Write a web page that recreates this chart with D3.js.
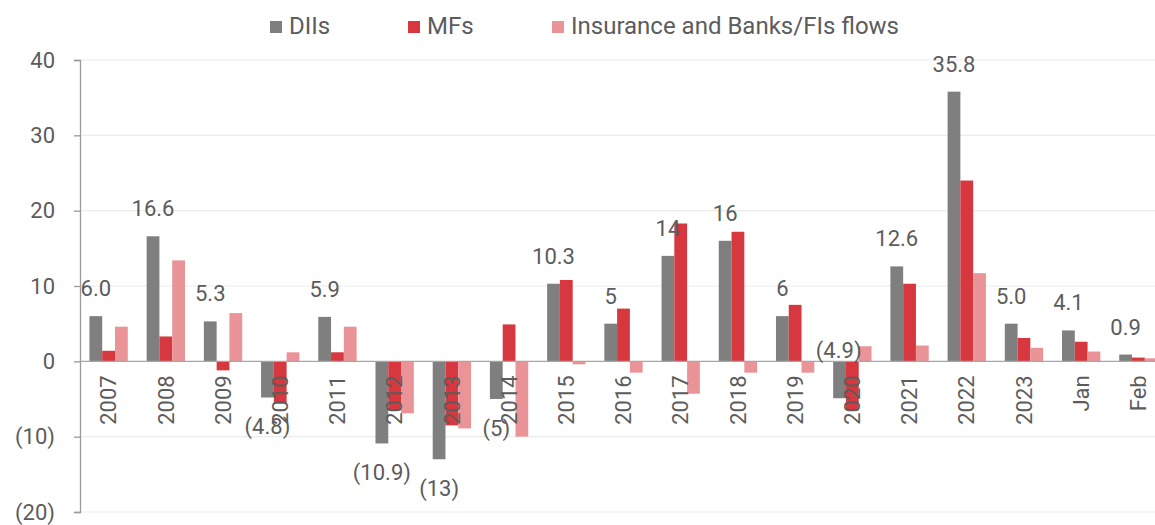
<!DOCTYPE html>
<html>
<head>
<meta charset="utf-8">
<script src="https://cdn.jsdelivr.net/npm/d3@7"></script>
<style>
  html, body { margin: 0; padding: 0; background: #fff; }
  svg { display: block; font-family: Roboto, "Noto Sans", sans-serif; }
</style>
</head>
<body>
<svg id="chart" width="1155" height="525"></svg>
<script>
// Flows by year (and latest months), in the chart's units
const categories = ["2007","2008","2009","2010","2011","2012","2013","2014","2015","2016","2017","2018","2019","2020","2021","2022","2023","Jan","Feb"];
const seriesNames = ["DIIs", "MFs", "Insurance and Banks/FIs flows"];
const diiValues  = [6.0, 16.6, 5.3, -4.8, 5.9, -10.9, -13, -5, 10.3, 5, 14, 16, 6, -4.9, 12.6, 35.8, 5.0, 4.1, 0.9];
const mfValues   = [1.4, 3.3, -1.2, -5.6, 1.2, -6.5, -8.5, 4.9, 10.8, 7.0, 18.3, 17.2, 7.5, -6.5, 10.3, 24.0, 3.1, 2.6, 0.5];
const insValues  = [4.6, 13.4, 6.4, 1.2, 4.6, -6.9, -8.9, -10.0, -0.4, -1.5, -4.3, -1.5, -1.5, 2.0, 2.1, 11.7, 1.8, 1.3, 0.4];
const diiLabels  = ["6.0","16.6","5.3","(4.8)","5.9","(10.9)","(13)","(5)","10.3","5","14","16","6","(4.9)","12.6","35.8","5.0","4.1","0.9"];
const yTicks     = [40, 30, 20, 10, 0, -10, -20];
const yTickLabels = ["40","30","20","10","0","(10)","(20)"];

const colors = ["#7f7f7f", "#d7373e", "#ea9498"];
const seriesValues = [diiValues, mfValues, insValues];
const textColor = "#5c5c5c";
const fontSize = 22;

const svg = d3.select("#chart");
const plotLeft = 80, plotRight = 1155, plotTop = 60, plotBottom = 512;
// the category band runs a little past the right edge of the canvas
const bandEnd = 1167;

const y = d3.scaleLinear().domain([-20, 40]).range([plotBottom, plotTop]);
const x0 = d3.scaleBand().domain(categories).range([plotLeft, bandEnd]).paddingInner(0.33).paddingOuter(0.165);
const x1 = d3.scaleBand().domain(d3.range(seriesNames.length)).range([0, x0.bandwidth()]);

// gridlines
svg.append("g")
  .selectAll("line")
  .data(yTicks.filter(t => t !== 0))
  .join("line")
  .attr("x1", plotLeft).attr("x2", plotRight)
  .attr("y1", d => y(d)).attr("y2", d => y(d))
  .attr("stroke", "#ececec").attr("stroke-width", 1.2);

// y axis
const yAxis = d3.axisLeft(y)
  .tickValues(yTicks)
  .tickFormat((d, i) => yTickLabels[i])
  .tickSize(6)
  .tickPadding(19);
const gy = svg.append("g").attr("transform", `translate(${plotLeft},0)`).call(yAxis);
gy.select(".domain").attr("stroke", "#9a9a9a").attr("stroke-width", 1.3);
gy.selectAll(".tick line").attr("stroke", "#9a9a9a").attr("stroke-width", 1.3);
gy.selectAll(".tick text")
  .attr("fill", textColor)
  .attr("font-size", fontSize)
  .attr("font-family", "Roboto, sans-serif");

// bars
const groups = svg.append("g")
  .selectAll("g")
  .data(categories)
  .join("g")
  .attr("transform", d => `translate(${x0(d)},0)`);

groups.selectAll("rect")
  .data((c, ci) => seriesValues.map((vals, si) => ({ si, v: vals[ci] })))
  .join("rect")
  .attr("x", d => x1(d.si))
  .attr("width", x1.bandwidth())
  .attr("y", d => y(Math.max(0, d.v)))
  .attr("height", d => Math.abs(y(d.v) - y(0)))
  .attr("fill", d => colors[d.si]);

// zero line
svg.append("line")
  .attr("x1", plotLeft).attr("x2", plotRight)
  .attr("y1", y(0)).attr("y2", y(0))
  .attr("stroke", "#a6a6a6").attr("stroke-width", 1.3);

// category labels, rotated, hanging below the zero line
svg.append("g")
  .selectAll("text")
  .data(categories)
  .join("text")
  .attr("transform", d => `translate(${x0(d) + x0.bandwidth() / 2},${y(0) + 14}) rotate(-90)`)
  .attr("text-anchor", "end")
  .attr("dy", "0.35em")
  .attr("fill", textColor)
  .attr("font-size", fontSize)
  .text(d => d);

// DII value labels; the 2020 label sits above the axis
const aboveAxis = new Set(["2020"]);
svg.append("g")
  .selectAll("text")
  .data(categories)
  .join("text")
  .attr("x", (c) => x0(c) + x1(0) + x1.bandwidth() / 2)
  .attr("y", (c, i) => {
    const v = diiValues[i];
    if (v >= 0) return y(v) - 20;
    if (aboveAxis.has(c)) return y(0) - 3;
    return y(v) + 37;
  })
  .attr("text-anchor", (c) => aboveAxis.has(c) ? "end" : "middle")
  .attr("dx", (c) => aboveAxis.has(c) ? 22 : 0)
  .attr("fill", textColor)
  .attr("font-size", fontSize)
  .text((c, i) => diiLabels[i]);

// legend
const legendX = [270, 408, 552];
const legend = svg.append("g")
  .selectAll("g")
  .data(seriesNames)
  .join("g")
  .attr("transform", (d, i) => `translate(${legendX[i]},27)`);
legend.append("rect")
  .attr("x", 0).attr("y", -6).attr("width", 12).attr("height", 12)
  .attr("fill", (d, i) => colors[i]);
legend.append("text")
  .attr("x", 19).attr("y", 7)
  .attr("fill", textColor)
  .attr("font-size", fontSize + 2)
  .text(d => d);
</script>
</body>
</html>
